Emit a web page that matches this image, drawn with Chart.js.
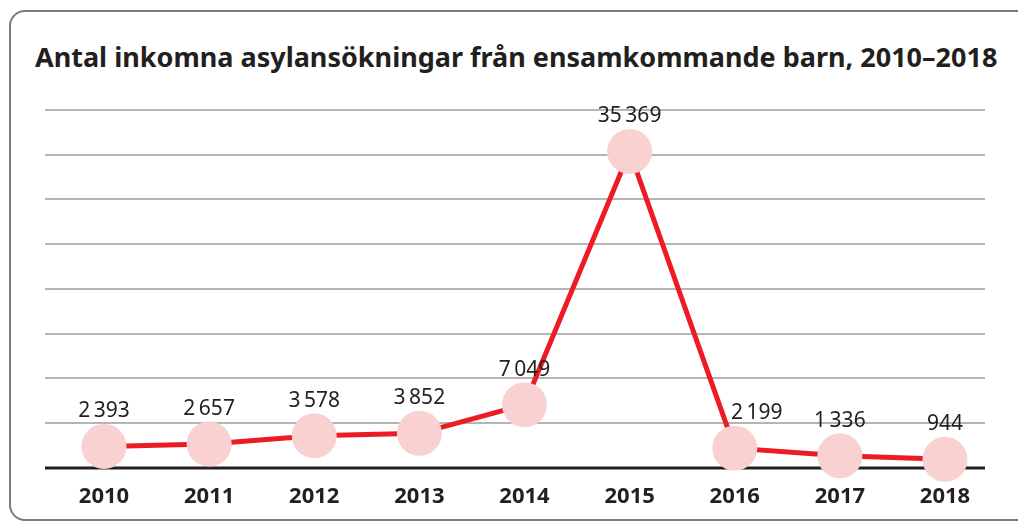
<!DOCTYPE html>
<html lang="sv">
<head>
<meta charset="utf-8">
<script src="https://cdn.jsdelivr.net/npm/chart.js@4"></script>
<style>
  html, body { margin: 0; padding: 0; background: #fff; overflow: hidden; }
  #wrap { position: relative; width: 1018px; height: 522px; overflow: hidden; }
  #frame {
    position: absolute; left: 9px; top: 10px; width: 1100px; height: 511px;
    border: 2px solid #7a7a7a; border-radius: 16px; box-sizing: border-box;
  }
  #title {
    position: absolute; left: 35px; top: 38px; margin: 0;
    font: bold 27px "Noto Sans", sans-serif; color: #231f20; white-space: nowrap;
  }
  canvas { position: absolute; left: 0; top: 0; }
</style>
</head>
<body>
<div id="wrap">
  <div id="frame"></div>
  <h1 id="title">Antal inkomna asylansökningar från ensamkommande barn, 2010–2018</h1>
  <canvas id="chart" width="1018" height="540"></canvas>
</div>
<script>
// ── Data ────────────────────────────────────────────────────────────
const years = ['2010', '2011', '2012', '2013', '2014', '2015', '2016', '2017', '2018'];
const applications = [2393, 2657, 3578, 3852, 7049, 35369, 2199, 1336, 944];
const yTicks = [0, 5000, 10000, 15000, 20000, 25000, 30000, 35000, 40000];

// thin-space thousands separator, like "35 369"
function fmt(n) {
  return String(n).replace(/\B(?=(\d{3})+(?!\d))/g, '\u2009');
}

// ── Horizontal rules spanning the full panel width ─────────────────
const rulesPlugin = {
  id: 'rules',
  beforeDatasetsDraw(chart) {
    const ctx = chart.ctx;
    const y = chart.scales.y;
    ctx.save();
    yTicks.forEach(function(v) {
      const py = Math.round(y.getPixelForValue(v));
      ctx.beginPath();
      if (v === 0) {
        ctx.strokeStyle = '#231f20';
        ctx.lineWidth = 3;
      } else {
        ctx.strokeStyle = '#6d6d6d';
        ctx.lineWidth = 1.2;
      }
      ctx.moveTo(45, py);
      ctx.lineTo(985, py);
      ctx.stroke();
    });
    ctx.restore();
  }
};

// ── Value labels above each circle ─────────────────────────────────
const valueLabels = {
  id: 'valueLabels',
  afterDatasetsDraw(chart) {
    const ctx = chart.ctx;
    const meta = chart.getDatasetMeta(0);
    ctx.save();
    ctx.font = '21px "Noto Sans", sans-serif';
    ctx.fillStyle = '#231f20';
    ctx.textAlign = 'center';
    ctx.textBaseline = 'middle';
    meta.data.forEach(function(pt, i) {
      // 2016 label nudged right so it clears the falling line
      const dx = i === 6 ? 22 : 0;
      ctx.fillText(fmt(applications[i]), pt.x + dx, pt.y - 35);
    });
    ctx.restore();
  }
};

new Chart(document.getElementById('chart'), {
  type: 'line',
  data: {
    labels: years,
    datasets: [{
      data: applications,
      borderColor: '#ed1c24',
      borderWidth: 5,
      tension: 0,
      pointRadius: 22.5,
      pointHoverRadius: 22.5,
      pointBackgroundColor: '#f9d1d1',
      pointBorderWidth: 0,
      clip: false
    }]
  },
  options: {
    responsive: false,
    animation: false,
    layout: { padding: { left: 104, right: 73, top: 110, bottom: 14 } },
    plugins: {
      legend: { display: false },
      title: { display: false },
      tooltip: { enabled: false }
    },
    scales: {
      x: {
        offset: false,
        grid: { display: false, drawTicks: false },
        border: { display: false },
        ticks: {
          padding: 17,
          color: '#231f20',
          font: { family: '"Noto Sans", sans-serif', size: 22, weight: 'bold', lineHeight: 1.1 }
        }
      },
      y: {
        display: false,
        min: 0,
        max: 40000
      }
    }
  },
  plugins: [rulesPlugin, valueLabels]
});
</script>
</body>
</html>
